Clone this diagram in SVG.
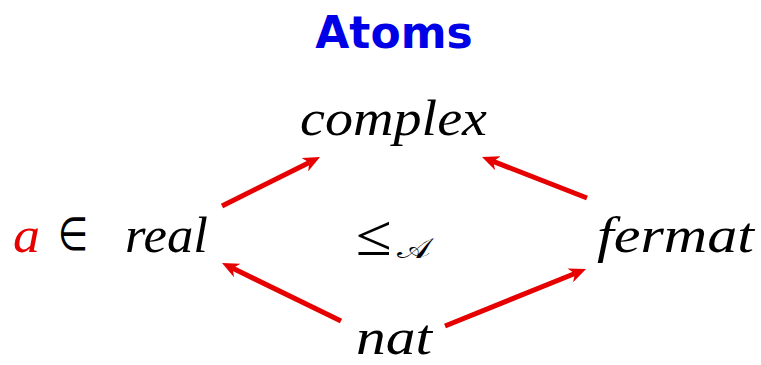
<svg xmlns="http://www.w3.org/2000/svg" width="761" height="365" viewBox="0 0 761 365">
<style>
.title{font-family:"DejaVu Sans",sans-serif;font-weight:bold;font-size:44px;fill:#0000e6}
.m{font-family:"Liberation Serif",serif;font-style:italic;font-size:51px;fill:#000}
.sym{font-family:"Liberation Serif","DejaVu Serif",serif;fill:#000}
.edge{stroke:#e60000;stroke-width:5;fill:none}
</style>
<defs>
<marker id="ah" viewBox="0 0 17 15" markerWidth="17" markerHeight="15" markerUnits="userSpaceOnUse" refX="5" refY="7.5" orient="auto">
<path d="M0,0 L17,7.5 L0,15 L5,7.5 Z" fill="#e60000"/>
</marker>
</defs>
<text class="title" x="394" y="48" text-anchor="middle">Atoms</text>
<g id="complex"><text class="m" x="300" y="135" textLength="187" lengthAdjust="spacingAndGlyphs">complex</text></g>
<g id="real">
<text class="m" x="13" y="252" style="fill:#e60000" textLength="27" lengthAdjust="spacingAndGlyphs">a</text>
<text x="58" y="250" style="font-family:'DejaVu Sans',sans-serif;font-weight:200;font-size:46px" textLength="30" lengthAdjust="spacingAndGlyphs">∈</text>
<text class="m" x="125" y="252" textLength="83" lengthAdjust="spacingAndGlyphs">real</text>
</g>
<g id="fermat"><text class="m" x="597" y="252" textLength="157" lengthAdjust="spacingAndGlyphs">fermat</text></g>
<g id="nat"><text class="m" x="356" y="354" textLength="76" lengthAdjust="spacingAndGlyphs">nat</text></g>
<g id="leq">
<text class="sym" x="356" y="255" font-size="58" textLength="36" lengthAdjust="spacingAndGlyphs">≤</text>
<text x="397" y="258" style="font-family:'DejaVu Sans','Noto Sans',serif;font-size:28px" textLength="33" lengthAdjust="spacingAndGlyphs">𝒜</text>
</g>
<g id="connectors">
<line class="edge" x1="222" y1="206" x2="309.3" y2="162.4" marker-end="url(#ah)"/>
<line class="edge" x1="587" y1="198" x2="493.2" y2="161.4" marker-end="url(#ah)"/>
<line class="edge" x1="341" y1="321" x2="232.8" y2="268.3" marker-end="url(#ah)"/>
<line class="edge" x1="445" y1="326" x2="574.9" y2="273.5" marker-end="url(#ah)"/>
</g>
</svg>
